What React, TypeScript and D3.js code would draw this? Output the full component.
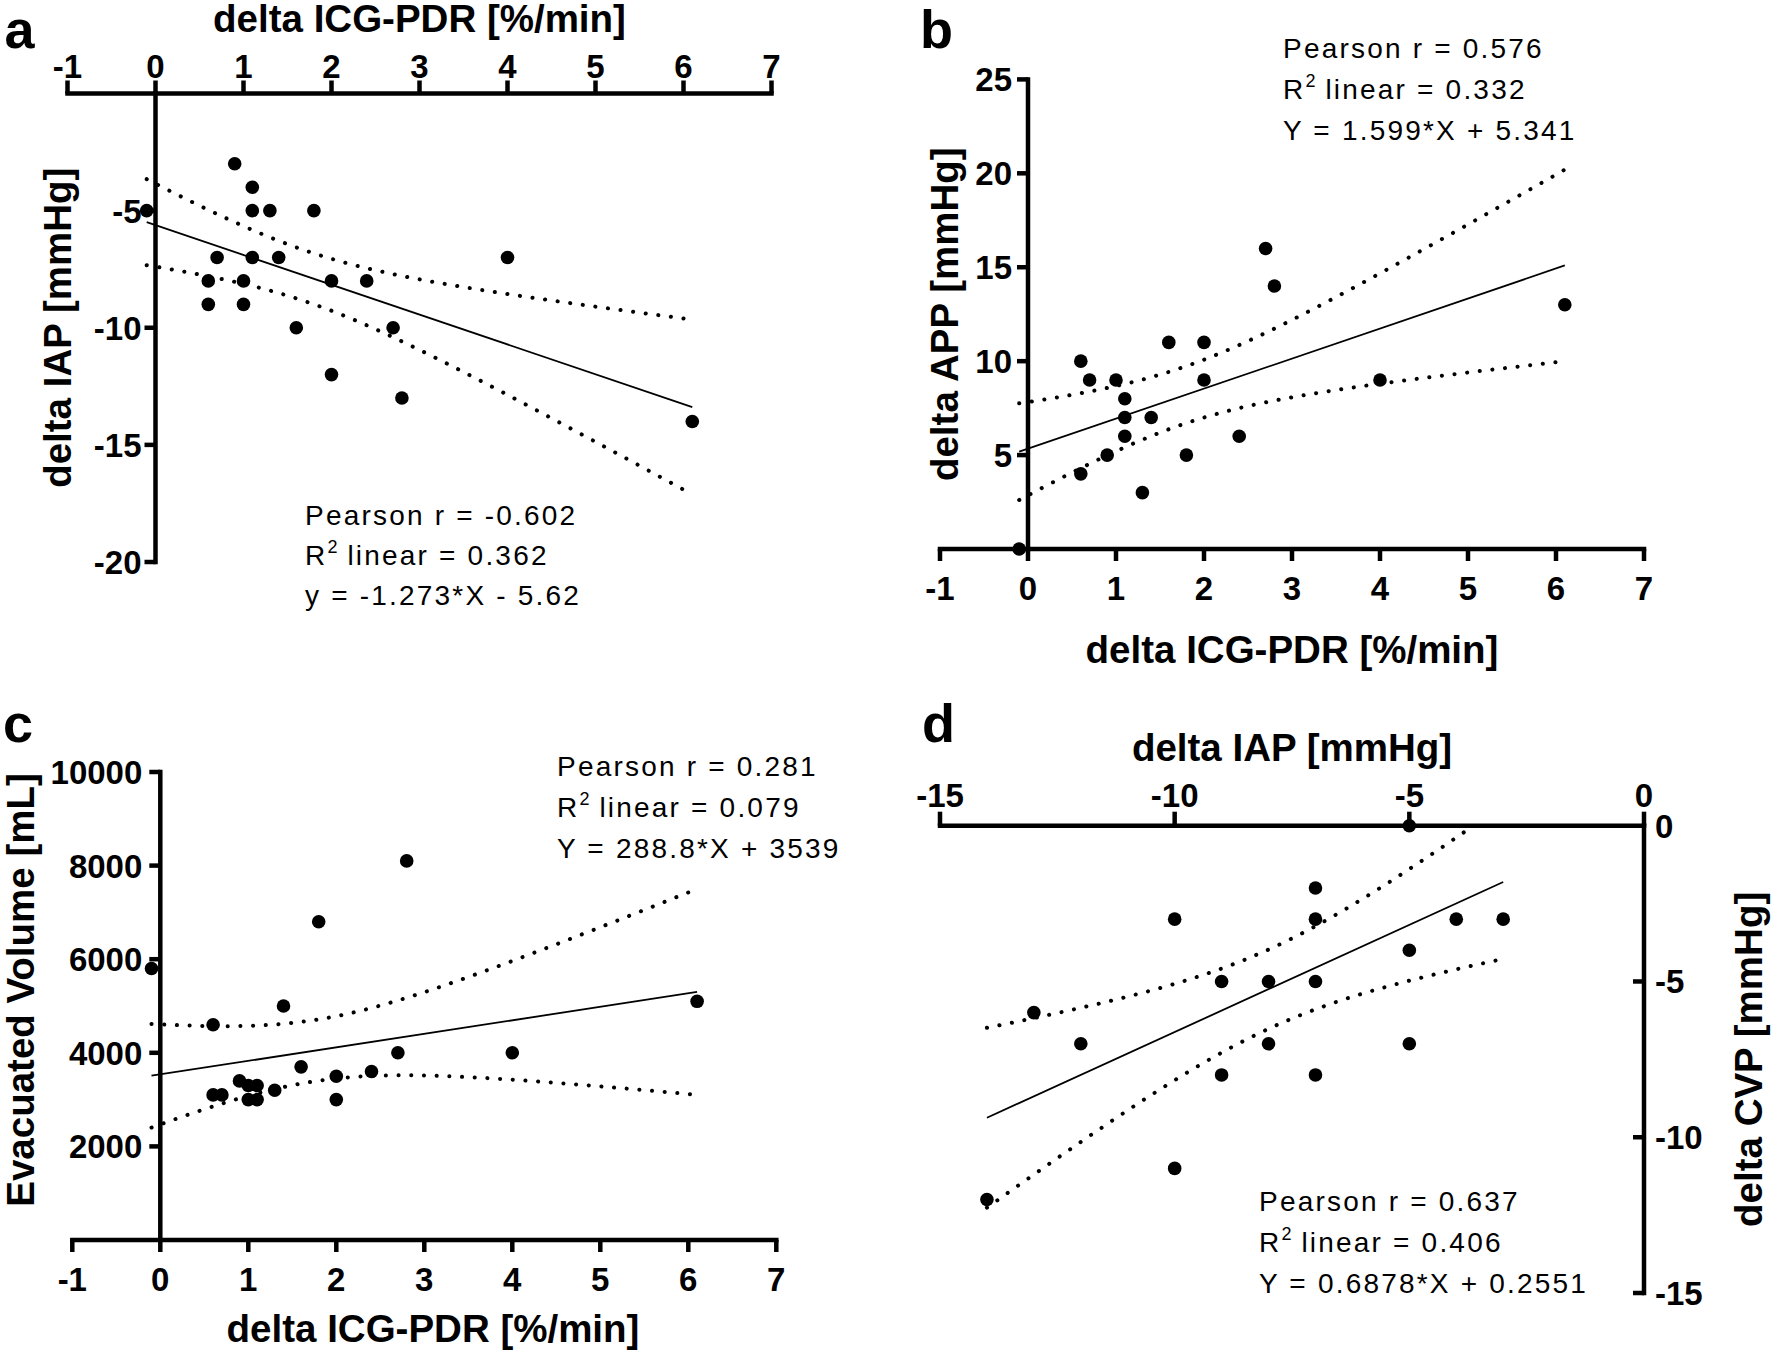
import React from 'react';
import * as d3 from 'd3';

const FONT = "'Liberation Sans', Arial, Helvetica, sans-serif";

// ---------------- data ----------------
const pdrTicks = [-1, 0, 1, 2, 3, 4, 5, 6, 7];

// panel a: delta ICG-PDR vs delta IAP
const aPdr = [-0.1, 0.9, 1.1, 1.1, 1.3, 1.8, 0.7, 1.1, 1.4, 0.6, 1.0, 2.0, 2.4, 0.6, 1.0, 1.6, 2.7, 2.0, 2.8, 4.0, 6.1];
const aIap = [-5, -3, -4, -5, -5, -5, -7, -7, -7, -8, -8, -8, -8, -9, -9, -10, -10, -12, -13, -7, -14];
const aYTicks = [-5, -10, -15, -20];
const aFit = { slope: -1.273, intercept: -5.62, t: 2.093 };
const aStats = ['Pearson r = -0.602', '0.362', 'y = -1.273*X - 5.62'];

// panel b: delta ICG-PDR vs delta APP
const bPdr = [-0.1, 0.6, 0.7, 1.0, 1.1, 1.1, 1.1, 0.9, 0.6, 1.3, 1.4, 1.6, 1.8, 2.0, 2.0, 2.4, 2.7, 2.8, 4.0, 6.1];
const bApp = [0, 10, 9, 9, 8, 7, 6, 5, 4, 3, 7, 11, 5, 11, 9, 6, 16, 14, 9, 13];
const bYTicks = [5, 10, 15, 20, 25];
const bFit = { slope: 1.599, intercept: 5.341, t: 2.101 };
const bStats = ['Pearson r = 0.576', '0.332', 'Y = 1.599*X + 5.341'];

// panel c: delta ICG-PDR vs evacuated volume
const cPdr = [-0.1, 0.6, 0.6, 0.7, 0.9, 1.0, 1.1, 1.0, 1.1, 1.3, 1.4, 1.6, 1.8, 2.0, 2.0, 2.4, 2.7, 2.8, 4.0, 6.1];
const cVol = [5800, 4600, 3100, 3100, 3400, 3300, 3300, 3000, 3000, 3200, 5000, 3700, 6800, 3500, 3000, 3600, 4000, 8100, 4000, 5100];
const cYTicks = [2000, 4000, 6000, 8000, 10000];
const cFit = { slope: 288.8, intercept: 3539, t: 2.101 };
const cStats = ['Pearson r = 0.281', '0.079', 'Y = 288.8*X + 3539'];

// panel d: delta IAP vs delta CVP
const dIap = [-5, -7, -10, -7, -4, -3, -5, -9, -8, -7, -13, -12, -8, -5, -9, -7, -10, -14];
const dCvp = [0, -2, -3, -3, -3, -3, -4, -5, -5, -5, -6, -7, -7, -7, -8, -8, -11, -12];
const dXTicks = [-15, -10, -5, 0];
const dYTicks = [0, -5, -10, -15];
const dFit = { slope: 0.6878, intercept: 0.2551, t: 2.12 };
const dStats = ['Pearson r = 0.637', '0.406', 'Y = 0.6878*X + 0.2551'];

// ---------------- helpers ----------------
type Fit = { slope: number; intercept: number; t: number };

function confBand(xs: number[], ys: number[], fit: Fit) {
  const n = xs.length;
  const mx = d3.mean(xs) as number;
  const sxx = d3.sum(xs, (x) => (x - mx) ** 2);
  const sse = d3.sum(xs.map((x, i) => (ys[i] - (fit.slope * x + fit.intercept)) ** 2));
  const s = Math.sqrt(sse / (n - 2));
  const [x0, x1] = d3.extent(xs) as [number, number];
  const grid = d3.range(0, 121).map((i) => x0 + ((x1 - x0) * i) / 120);
  return grid.map((x) => {
    const yh = fit.slope * x + fit.intercept;
    const h = fit.t * s * Math.sqrt(1 / n + (x - mx) ** 2 / sxx);
    return { x, lo: yh - h, hi: yh + h };
  });
}

const AXW = 4.5;
const BOLD = { fontFamily: FONT, fontWeight: 700 as const };

function FitMarks({ xs, ys, fit, xS, yS, clipId }: any) {
  const band = confBand(xs, ys, fit);
  const [x0, x1] = d3.extent(xs) as [number, number];
  const upper = d3.line<any>().x((d) => xS(d.x)).y((d) => yS(d.hi))(band) as string;
  const lower = d3.line<any>().x((d) => xS(d.x)).y((d) => yS(d.lo))(band) as string;
  const reg = d3.line<number>().x((x) => xS(x)).y((x) => yS(fit.slope * x + fit.intercept))([x0, x1]) as string;
  const dot = { fill: 'none', stroke: '#000', strokeWidth: 4, strokeLinecap: 'round' as const, strokeDasharray: '0.1 12.6' };
  return (
    <g clipPath={clipId ? `url(#${clipId})` : undefined}>
      <path d={upper} {...dot} />
      <path d={lower} {...dot} />
      <path d={reg} fill="none" stroke="#000" strokeWidth={1.8} />
    </g>
  );
}

function Points({ xs, ys, xS, yS }: any) {
  return (
    <g>
      {xs.map((x: number, i: number) => (
        <circle key={i} cx={xS(x)} cy={yS(ys[i])} r={6.8} fill="#000" />
      ))}
    </g>
  );
}

function Stats({ x, y, lines, gap }: { x: number; y: number; lines: string[]; gap: number }) {
  const st = { fontFamily: FONT, fontSize: 28, letterSpacing: '2.2px', fill: '#000' };
  return (
    <g>
      <text x={x} y={y} style={st}>{lines[0]}</text>
      <text x={x} y={y + gap} style={st}>
        R<tspan dy={-12} style={{ fontSize: 18, letterSpacing: '0px' }}>2</tspan>
        <tspan dy={12}>{' linear = ' + lines[1]}</tspan>
      </text>
      <text x={x} y={y + 2 * gap} style={st}>{lines[2]}</text>
    </g>
  );
}

export default function App() {
  // panel a
  const xA = d3.scaleLinear([-1, 7], [67.5, 771.5]);
  const yA = d3.scaleLinear([0, -20], [93.5, 562]);
  // panel b
  const xB = d3.scaleLinear([-1, 7], [940, 1644]);
  const yB = d3.scaleLinear([0, 25], [549, 79.4]);
  // panel c
  const xC = d3.scaleLinear([-1, 7], [72.3, 776.3]);
  const yC = d3.scaleLinear([0, 10000], [1240, 772]);
  // panel d
  const xD = d3.scaleLinear([-15, 0], [940, 1644]);
  const yD = d3.scaleLinear([0, -15], [825.7, 1293]);

  const tickFs = 33;
  const titleFs = 38.5;
  const letterFs = 54;
  const yOff = 12;
  const ax = { stroke: '#000', strokeWidth: AXW, fill: 'none' };

  return (
    <svg width={1772} height={1359} style={{ position: 'absolute', left: 0, top: 0, background: '#fff' }}>
      <rect width={1772} height={1359} fill="#fff" />
      <defs>
        <clipPath id="clipA">
          <rect x={xA(-1)} y={yA(0)} width={xA(7) - xA(-1)} height={yA(-20) - yA(0)} />
        </clipPath>
        <clipPath id="clipB">
          <rect x={xB(-1)} y={yB(25)} width={xB(7) - xB(-1)} height={yB(0) - yB(25)} />
        </clipPath>
        <clipPath id="clipC">
          <rect x={xC(-1)} y={yC(10000)} width={xC(7) - xC(-1)} height={yC(0) - yC(10000)} />
        </clipPath>
        <clipPath id="clipD">
          <rect x={xD(-15)} y={yD(0)} width={xD(0) - xD(-15)} height={yD(-15) - yD(0)} />
        </clipPath>
      </defs>

      {/* ================= panel a ================= */}
      <g>
        <text x={4.5} y={48} style={{ ...BOLD, fontSize: letterFs }}>a</text>
        <text x={(xA(-1) + xA(7)) / 2} y={31.6} textAnchor="middle" style={{ ...BOLD, fontSize: titleFs }}>
          delta ICG-PDR [%/min]
        </text>
        <line x1={xA(-1)} x2={xA(7)} y1={yA(0)} y2={yA(0)} {...ax} strokeLinecap="square" />
        {pdrTicks.map((t) => (
          <g key={t}>
            <line x1={xA(t)} x2={xA(t)} y1={yA(0)} y2={yA(0) - 13} {...ax} />
            <text x={xA(t)} y={yA(0) - 16} textAnchor="middle" style={{ ...BOLD, fontSize: tickFs }}>{t}</text>
          </g>
        ))}
        <line x1={xA(0)} x2={xA(0)} y1={yA(0)} y2={yA(-20)} {...ax} strokeLinecap="square" />
        {aYTicks.map((t) => (
          <g key={t}>
            <line x1={xA(0) - 11} x2={xA(0)} y1={yA(t)} y2={yA(t)} {...ax} />
            <text x={xA(0) - 14} y={yA(t) + yOff} textAnchor="end" style={{ ...BOLD, fontSize: tickFs }}>{t}</text>
          </g>
        ))}
        <text transform={`translate(71, ${(yA(0) + yA(-20)) / 2}) rotate(-90)`} textAnchor="middle" style={{ ...BOLD, fontSize: titleFs }}>
          delta IAP [mmHg]
        </text>
        <FitMarks xs={aPdr} ys={aIap} fit={aFit} xS={xA} yS={yA} clipId="clipA" />
        <Points xs={aPdr} ys={aIap} xS={xA} yS={yA} />
        <Stats x={305} y={525} lines={aStats} gap={40} />
      </g>

      {/* ================= panel b ================= */}
      <g>
        <text x={920} y={48} style={{ ...BOLD, fontSize: letterFs }}>b</text>
        <line x1={xB(-1)} x2={xB(7)} y1={yB(0)} y2={yB(0)} {...ax} strokeLinecap="square" />
        {pdrTicks.map((t) => (
          <g key={t}>
            <line x1={xB(t)} x2={xB(t)} y1={yB(0)} y2={yB(0) + 12} {...ax} />
            <text x={xB(t)} y={600} textAnchor="middle" style={{ ...BOLD, fontSize: tickFs }}>{t}</text>
          </g>
        ))}
        <line x1={xB(0)} x2={xB(0)} y1={yB(0)} y2={yB(25)} {...ax} strokeLinecap="square" />
        {bYTicks.map((t) => (
          <g key={t}>
            <line x1={xB(0) - 11} x2={xB(0)} y1={yB(t)} y2={yB(t)} {...ax} />
            <text x={xB(0) - 16} y={yB(t) + yOff} textAnchor="end" style={{ ...BOLD, fontSize: tickFs }}>{t}</text>
          </g>
        ))}
        <text x={(xB(-1) + xB(7)) / 2} y={663} textAnchor="middle" style={{ ...BOLD, fontSize: titleFs }}>
          delta ICG-PDR [%/min]
        </text>
        <text transform={`translate(958, ${(yB(0) + yB(25)) / 2}) rotate(-90)`} textAnchor="middle" style={{ ...BOLD, fontSize: titleFs }}>
          delta APP [mmHg]
        </text>
        <FitMarks xs={bPdr} ys={bApp} fit={bFit} xS={xB} yS={yB} clipId="clipB" />
        <Points xs={bPdr} ys={bApp} xS={xB} yS={yB} />
        <Stats x={1283} y={58} lines={bStats} gap={41} />
      </g>

      {/* ================= panel c ================= */}
      <g>
        <text x={3} y={742} style={{ ...BOLD, fontSize: letterFs }}>c</text>
        <line x1={xC(-1)} x2={xC(7)} y1={yC(0)} y2={yC(0)} {...ax} strokeLinecap="square" />
        {pdrTicks.map((t) => (
          <g key={t}>
            <line x1={xC(t)} x2={xC(t)} y1={yC(0)} y2={yC(0) + 12} {...ax} />
            <text x={xC(t)} y={1291} textAnchor="middle" style={{ ...BOLD, fontSize: tickFs }}>{t}</text>
          </g>
        ))}
        <line x1={xC(0)} x2={xC(0)} y1={yC(0)} y2={yC(10000)} {...ax} strokeLinecap="square" />
        {cYTicks.map((t) => (
          <g key={t}>
            <line x1={xC(0) - 11} x2={xC(0)} y1={yC(t)} y2={yC(t)} {...ax} />
            <text x={xC(0) - 18} y={yC(t) + yOff} textAnchor="end" style={{ ...BOLD, fontSize: tickFs }}>{t}</text>
          </g>
        ))}
        <text x={433} y={1342} textAnchor="middle" style={{ ...BOLD, fontSize: titleFs }}>
          delta ICG-PDR [%/min]
        </text>
        <text transform={`translate(34, 990) rotate(-90)`} textAnchor="middle" style={{ ...BOLD, fontSize: titleFs }}>
          Evacuated Volume [mL]
        </text>
        <FitMarks xs={cPdr} ys={cVol} fit={cFit} xS={xC} yS={yC} clipId="clipC" />
        <Points xs={cPdr} ys={cVol} xS={xC} yS={yC} />
        <Stats x={557} y={776} lines={cStats} gap={41} />
      </g>

      {/* ================= panel d ================= */}
      <g>
        <text x={922} y={742} style={{ ...BOLD, fontSize: letterFs }}>d</text>
        <text x={(xD(-15) + xD(0)) / 2} y={760.6} textAnchor="middle" style={{ ...BOLD, fontSize: titleFs }}>
          delta IAP [mmHg]
        </text>
        <line x1={xD(-15)} x2={xD(0)} y1={yD(0)} y2={yD(0)} {...ax} strokeLinecap="square" />
        {dXTicks.map((t) => (
          <g key={t}>
            <line x1={xD(t)} x2={xD(t)} y1={yD(0)} y2={yD(0) - 14} {...ax} />
            <text x={xD(t)} y={806.7} textAnchor="middle" style={{ ...BOLD, fontSize: tickFs }}>{t}</text>
          </g>
        ))}
        <line x1={xD(0)} x2={xD(0)} y1={yD(0)} y2={yD(-15)} {...ax} strokeLinecap="square" />
        {dYTicks.map((t) => (
          <g key={t}>
            {t !== 0 && <line x1={xD(0) - 11} x2={xD(0)} y1={yD(t)} y2={yD(t)} {...ax} />}
            <text x={xD(0) + 11} y={yD(t) + yOff} textAnchor="start" style={{ ...BOLD, fontSize: tickFs }}>{t}</text>
          </g>
        ))}
        <text transform={`translate(1762, ${(yD(0) + yD(-15)) / 2}) rotate(-90)`} textAnchor="middle" style={{ ...BOLD, fontSize: titleFs }}>
          delta CVP [mmHg]
        </text>
        <FitMarks xs={dIap} ys={dCvp} fit={dFit} xS={xD} yS={yD} clipId="clipD" />
        <Points xs={dIap} ys={dCvp} xS={xD} yS={yD} />
        <Stats x={1259} y={1211} lines={dStats} gap={41} />
      </g>
    </svg>
  );
}
